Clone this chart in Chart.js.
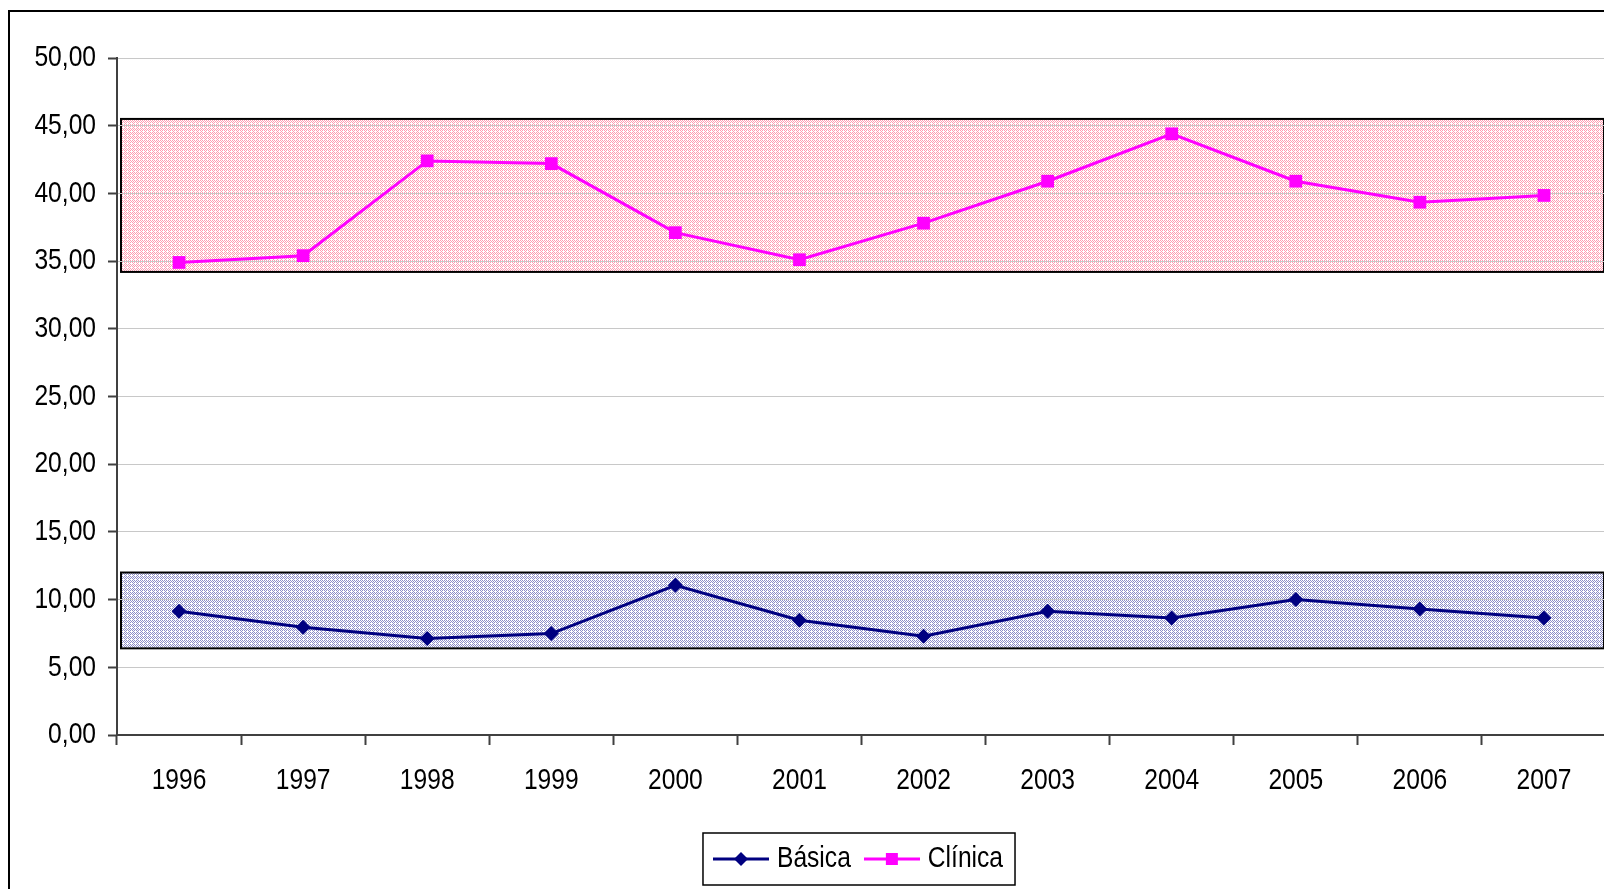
<!DOCTYPE html>
<html>
<head>
<meta charset="utf-8">
<script src="https://cdn.jsdelivr.net/npm/chart.js@4.4.1/dist/chart.umd.min.js"></script>
<style>
  html, body { margin: 0; padding: 0; background: #fff; overflow: hidden; }
  #frame { position: absolute; left: 8px; top: 10px; width: 1700px; height: 1000px; border: 2px solid #000; }
  #chart { position: absolute; left: 0; top: 0; }
</style>
</head>
<body>
<div id="frame"></div>
<canvas id="chart" width="1615" height="889"></canvas>
<script>
const YEARS = ['1996', '1997', '1998', '1999', '2000', '2001', '2002', '2003', '2004', '2005', '2006', '2007'];
const BASICA = [9.14, 7.96, 7.12, 7.49, 11.06, 8.47, 7.29, 9.14, 8.65, 10.0, 9.31, 8.65];
const CLINICA = [34.9, 35.4, 42.4, 42.2, 37.1, 35.1, 37.8, 40.9, 44.4, 40.9, 39.35, 39.85];

// shaded bands behind each series, in axis units [low, high]
const BAND_BASICA = [6.4, 12.0];
const BAND_CLINICA = [34.2, 45.5];

const NAVY = '#000080';
const MAGENTA = '#ff00ff';
const FONT = "'Liberation Sans', Arial, sans-serif";
// no Arial Narrow here, so squeeze the text horizontally instead
const NARROW = 0.82;

Chart.defaults.font.family = FONT;
Chart.defaults.font.size = 30;
Chart.defaults.color = '#000';

function narrowText(ctx) {
  let fill = ctx.fillText.bind(ctx);
  let measure = ctx.measureText.bind(ctx);
  ctx.fillText = (text, x, y) => {
    ctx.save();
    ctx.translate(x, y);
    ctx.scale(NARROW, 1);
    fill(text, 0, 0);
    ctx.restore();
  };
  ctx.measureText = text => {
    let m = measure(text);
    return {
      width: m.width * NARROW,
      actualBoundingBoxAscent: m.actualBoundingBoxAscent,
      actualBoundingBoxDescent: m.actualBoundingBoxDescent,
      actualBoundingBoxLeft: m.actualBoundingBoxLeft * NARROW,
      actualBoundingBoxRight: m.actualBoundingBoxRight * NARROW,
    };
  };
}

// dotted fill like the Excel pattern
function dotPattern(dot) {
  let c = document.createElement('canvas');
  c.width = 4;
  c.height = 4;
  let g = c.getContext('2d');
  g.fillStyle = '#fff';
  g.fillRect(0, 0, 4, 4);
  g.fillStyle = dot;
  for (let y = 0; y < 4; y++) {
    for (let x = 0; x < 4; x++) {
      if ((x + y) % 2 === 0 && !(x === 3 && y === 3)) g.fillRect(x, y, 1, 1);
    }
  }
  return c;
}

// legend sample: line with the marker in the middle
function swatch(color, style) {
  let c = document.createElement('canvas');
  c.width = 56;
  c.height = 20;
  let g = c.getContext('2d');
  g.strokeStyle = color;
  g.lineWidth = 3;
  g.beginPath();
  g.moveTo(0, 10);
  g.lineTo(56, 10);
  g.stroke();
  g.fillStyle = color;
  g.beginPath();
  if (style === 'rect') {
    g.rect(22, 4, 12, 12);
  } else {
    g.moveTo(28, 3);
    g.lineTo(35, 10);
    g.lineTo(28, 17);
    g.lineTo(21, 10);
    g.closePath();
  }
  g.fill();
  return c;
}

const SWATCHES = [swatch(NAVY, 'diamond'), swatch(MAGENTA, 'rect')];

const BANDS = [
  { range: BAND_CLINICA, dot: '#ff9db2' },
  { range: BAND_BASICA, dot: '#8e8ec8' },
];

const bandsPlugin = {
  id: 'bands',
  beforeDraw(chart) {
    let { ctx, chartArea, scales: { y } } = chart;
    BANDS.forEach(b => {
      let top = y.getPixelForValue(b.range[1]);
      let bottom = y.getPixelForValue(b.range[0]);
      let left = chartArea.left + 4;
      let width = chartArea.right - left - 2;
      ctx.save();
      ctx.fillStyle = ctx.createPattern(dotPattern(b.dot), 'repeat');
      ctx.fillRect(left, top, width, bottom - top);
      ctx.lineWidth = 2;
      ctx.strokeStyle = '#000';
      ctx.strokeRect(left, top, width, bottom - top);
      ctx.restore();
    });
  },
};

const legendBox = {
  id: 'legendBox',
  afterDraw(chart) {
    let boxes = chart.legend.legendHitBoxes;
    if (!boxes.length) return;
    let left = Math.min(...boxes.map(b => b.left)) - 17;
    let right = Math.max(...boxes.map(b => b.left + b.width)) + 12;
    let top = Math.min(...boxes.map(b => b.top)) - 11;
    let bottom = Math.max(...boxes.map(b => b.top + b.height)) + 11;
    let ctx = chart.ctx;
    ctx.save();
    ctx.lineWidth = 1.5;
    ctx.strokeStyle = '#000';
    ctx.strokeRect(left, top, right - left, bottom - top);
    ctx.restore();
  },
};

let canvas = document.getElementById('chart');
narrowText(canvas.getContext('2d'));

new Chart(canvas, {
  type: 'line',
  data: {
    labels: YEARS,
    datasets: [
      {
        label: 'Básica',
        data: BASICA,
        borderColor: NAVY,
        backgroundColor: NAVY,
        borderWidth: 3,
        pointStyle: 'rectRot',
        pointRadius: 7.5,
        pointBorderWidth: 0,
      },
      {
        label: 'Clínica',
        data: CLINICA,
        borderColor: MAGENTA,
        backgroundColor: MAGENTA,
        borderWidth: 3,
        pointStyle: 'rect',
        pointRadius: 9,
        pointBorderWidth: 0,
      },
    ],
  },
  options: {
    responsive: false,
    animation: false,
    layout: { padding: { top: 58, left: 0, right: 0, bottom: 5 } },
    scales: {
      x: {
        offset: true,
        grid: {
          offset: true,
          drawOnChartArea: false,
          tickLength: 10,
          tickColor: '#404040',
          tickWidth: 2,
        },
        border: { color: '#404040', width: 2 },
        ticks: { padding: 18, maxRotation: 0, autoSkip: false },
        afterFit(scale) {
          scale.height = 89;
        },
      },
      y: {
        min: 0,
        max: 50,
        grid: {
          color: '#c8c8c8',
          lineWidth: 1,
          tickLength: 9,
          tickColor: '#404040',
          tickWidth: 2,
        },
        border: { color: '#404040', width: 2 },
        ticks: {
          stepSize: 5,
          padding: 12,
          callback: v => v.toFixed(2).replace('.', ','),
        },
        afterFit(scale) {
          scale.width = 117;
        },
      },
    },
    plugins: {
      tooltip: { enabled: false },
      legend: {
        position: 'bottom',
        fullSize: false,
        labels: {
          usePointStyle: true,
          pointStyleWidth: 42,
          padding: 20,
          color: '#000',
          generateLabels(chart) {
            let items = Chart.defaults.plugins.legend.labels.generateLabels(chart);
            items.forEach((item, i) => {
              item.pointStyle = SWATCHES[i];
            });
            return items;
          },
        },
      },
    },
  },
  plugins: [bandsPlugin, legendBox],
});
</script>
</body>
</html>
